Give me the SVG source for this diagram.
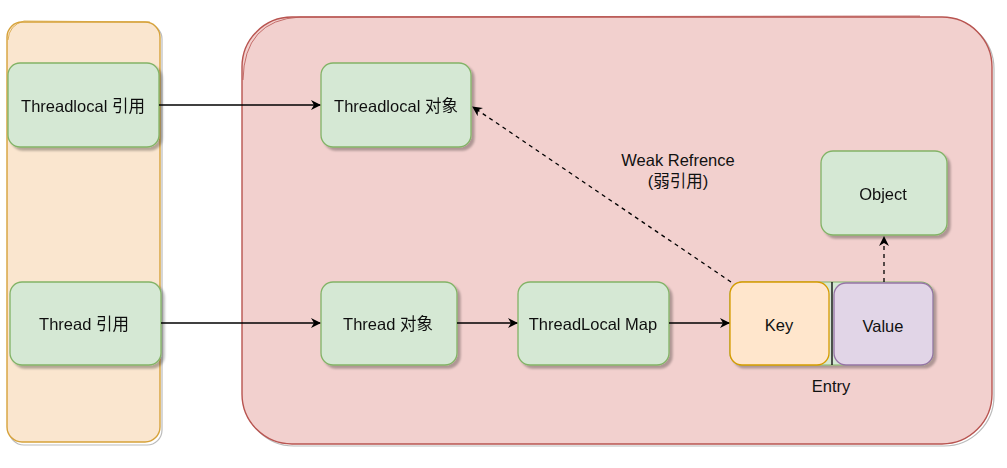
<svg xmlns="http://www.w3.org/2000/svg" width="1007" height="468" viewBox="0 0 1007 468">
<style>
.lbl{font-family:"Liberation Sans","Noto Sans CJK SC",sans-serif;font-size:16.5px;fill:#111;text-anchor:middle;dominant-baseline:central}
.green{fill:#d5e8d4;stroke:#82b366;stroke-width:1.3}
.conn{stroke:#000;stroke-width:1.3;fill:none}
.dash{stroke-dasharray:4 4}
.sh{filter:url(#shadow)}
</style>
<defs>
<filter id="shadow" x="-10%" y="-10%" width="130%" height="130%">
<feDropShadow dx="3" dy="3" stdDeviation="1.2" flood-color="#000" flood-opacity="0.28"/>
</filter>
<marker id="arr" viewBox="0 0 10 10" refX="9" refY="5" markerWidth="10" markerHeight="10" markerUnits="userSpaceOnUse" orient="auto">
<path d="M0,0 L10,5 L0,10 L3,5 Z" fill="#000"/>
</marker>
</defs>
<rect width="1007" height="468" fill="#fff"/>
<g id="thread-stack">
<rect x="9" y="24" width="153" height="421" rx="15" fill="none" stroke="#bbb" stroke-width="1.2"/>
<rect x="7" y="22" width="153" height="420" rx="15" fill="#fae6cf" stroke="#d6a23a" stroke-width="1.4"/>
<path d="M8,40 Q9,25 24,21 L150,22" fill="none" stroke="#d6a23a" stroke-width="0.8"/>
</g>
<g id="heap">
<rect x="244" y="19" width="750" height="427" rx="50" fill="none" stroke="#bbb" stroke-width="1.2"/>
<rect x="242" y="17" width="750" height="427" rx="50" fill="#f2d0ce" stroke="#b85450" stroke-width="1.4"/>
<path d="M243,80 Q244,20 300,17 L920,16" fill="none" stroke="#b85450" stroke-width="0.8"/>
</g>
<g id="threadlocal-ref" class="sh">
<rect class="green" x="8" y="63" width="151" height="84" rx="12"/>
<text class="lbl" x="83" y="106">Threadlocal 引用</text>
</g>
<g id="threadlocal-obj" class="sh">
<rect class="green" x="321" y="63" width="150" height="84" rx="12"/>
<text class="lbl" x="396" y="106">Threadlocal 对象</text>
</g>
<g id="thread-ref" class="sh">
<rect class="green" x="10" y="282" width="151" height="83" rx="12"/>
<text class="lbl" x="84" y="324">Thread 引用</text>
</g>
<g id="thread-obj" class="sh">
<rect class="green" x="321" y="282" width="136" height="83" rx="12"/>
<text class="lbl" x="388" y="324">Thread 对象</text>
</g>
<g id="threadlocal-map" class="sh">
<rect class="green" x="518" y="282" width="151" height="83" rx="12"/>
<text class="lbl" x="593" y="324">ThreadLocal Map</text>
</g>
<g id="object" class="sh">
<rect class="green" x="821" y="151" width="126" height="84" rx="12"/>
<text class="lbl" x="883" y="194">Object</text>
</g>
<g id="entry">
<rect class="sh" x="730" y="282" width="203" height="83" rx="12" fill="#d5e8d4" stroke="#82b366" stroke-width="1.2"/>
<line x1="832" y1="282" x2="832" y2="365" stroke="#000" stroke-width="1.3"/>
<text class="lbl" x="831" y="386">Entry</text>
</g>
<g id="key">
<rect x="730" y="282" width="99" height="83" rx="12" fill="#ffe6cc" stroke="#d79b00" stroke-width="1.3"/>
<text class="lbl" x="779" y="325">Key</text>
</g>
<g id="value">
<rect x="834" y="283" width="99" height="82" rx="12" fill="#e1d5e7" stroke="#9673a6" stroke-width="1.3"/>
<text class="lbl" x="883" y="326">Value</text>
</g>
<g id="connectors">
<line class="conn" x1="159" y1="105" x2="320" y2="105" marker-end="url(#arr)"/>
<line class="conn" x1="161" y1="323" x2="320" y2="323" marker-end="url(#arr)"/>
<line class="conn" x1="457" y1="323" x2="517" y2="323" marker-end="url(#arr)"/>
<line class="conn" x1="669" y1="323" x2="729" y2="323" marker-end="url(#arr)"/>
<line class="conn dash" x1="731" y1="282" x2="473" y2="107" marker-end="url(#arr)"/>
<line class="conn dash" x1="884" y1="282" x2="884" y2="237" marker-end="url(#arr)"/>
<text class="lbl" x="678" y="160">Weak Refrence</text>
<text class="lbl" x="678" y="181">(弱引用)</text>
</g>
</svg>
